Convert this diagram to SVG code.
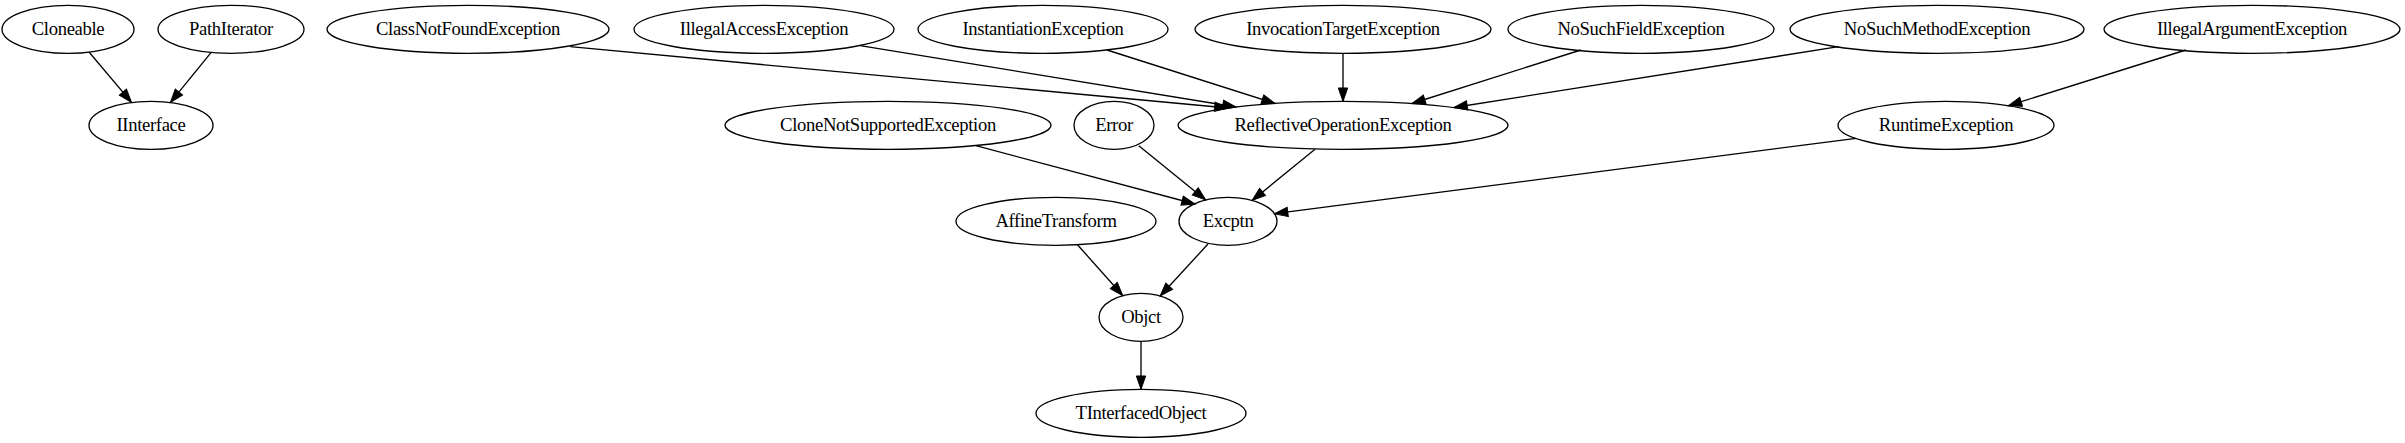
<svg xmlns="http://www.w3.org/2000/svg" width="2405" height="443" viewBox="0 0 2405 443">
<style>
.node ellipse{fill:none;stroke:#000;stroke-width:1.33}
.node text{font-family:"Liberation Serif","Times New Roman",serif;font-size:18.67px;letter-spacing:-0.35px;text-anchor:middle;fill:#000}
.edges path{fill:none;stroke:#000;stroke-width:1.33;marker-end:url(#arr)}
</style>
<defs>
<marker id="arr" markerUnits="userSpaceOnUse" viewBox="0 0 13.33 9.33" refX="13.33" refY="4.67" markerWidth="13.33" markerHeight="9.33" orient="auto" overflow="visible">
<path d="M0,0 L13.33,4.67 L0,9.33 z" fill="#000" stroke="#000" stroke-width="1"/>
</marker>
</defs>
<rect width="2405" height="443" fill="#fff"/>
<g class="edges">
<path d="M89.2,52.3 L131.5,102.4"/>
<path d="M211.2,52.3 L170.5,102.4"/>
<path d="M570.2,46.7 L1228,108"/>
<path d="M860.2,45.7 L1236,107"/>
<path d="M1107,50 L1275,103.5"/>
<path d="M1343,53.3 L1343,101.3"/>
<path d="M1580.8,50 L1412,103.5"/>
<path d="M1838.6,46.7 L1454,107.5"/>
<path d="M2185.8,50 L2008.4,105.7"/>
<path d="M975.9,145.7 L1195,204"/>
<path d="M1138.8,145.7 L1205.6,199.9"/>
<path d="M1315,149.3 L1252.2,200.4"/>
<path d="M1856,138.3 L1274.5,213.7"/>
<path d="M1077.7,245 L1122.7,295.5"/>
<path d="M1208,244 L1160.2,296"/>
<path d="M1141,341.3 L1141,389.3"/>
</g>
<g id="Cloneable" class="node"><ellipse cx="68" cy="29.3" rx="66" ry="24"/><text x="68" y="35.3">Cloneable</text></g>
<g id="PathIterator" class="node"><ellipse cx="231" cy="29.3" rx="73" ry="24"/><text x="231" y="35.3">PathIterator</text></g>
<g id="ClassNotFoundException" class="node"><ellipse cx="468" cy="29.3" rx="141" ry="24"/><text x="468" y="35.3">ClassNotFoundException</text></g>
<g id="IllegalAccessException" class="node"><ellipse cx="764" cy="29.3" rx="130" ry="24"/><text x="764" y="35.3">IllegalAccessException</text></g>
<g id="InstantiationException" class="node"><ellipse cx="1043" cy="29.3" rx="125" ry="24"/><text x="1043" y="35.3">InstantiationException</text></g>
<g id="InvocationTargetException" class="node"><ellipse cx="1343" cy="29.3" rx="148" ry="24"/><text x="1343" y="35.3">InvocationTargetException</text></g>
<g id="NoSuchFieldException" class="node"><ellipse cx="1641" cy="29.3" rx="133" ry="24"/><text x="1641" y="35.3">NoSuchFieldException</text></g>
<g id="NoSuchMethodException" class="node"><ellipse cx="1937" cy="29.3" rx="147" ry="24"/><text x="1937" y="35.3">NoSuchMethodException</text></g>
<g id="IllegalArgumentException" class="node"><ellipse cx="2252" cy="29.3" rx="148" ry="24"/><text x="2252" y="35.3">IllegalArgumentException</text></g>
<g id="IInterface" class="node"><ellipse cx="151" cy="125.3" rx="62" ry="24"/><text x="151" y="131.3">IInterface</text></g>
<g id="CloneNotSupportedException" class="node"><ellipse cx="888" cy="125.3" rx="163" ry="24"/><text x="888" y="131.3">CloneNotSupportedException</text></g>
<g id="Error" class="node"><ellipse cx="1114" cy="125.3" rx="40" ry="24"/><text x="1114" y="131.3">Error</text></g>
<g id="ReflectiveOperationException" class="node"><ellipse cx="1343" cy="125.3" rx="165" ry="24"/><text x="1343" y="131.3">ReflectiveOperationException</text></g>
<g id="RuntimeException" class="node"><ellipse cx="1946" cy="125.3" rx="108" ry="24"/><text x="1946" y="131.3">RuntimeException</text></g>
<g id="AffineTransform" class="node"><ellipse cx="1056" cy="221.3" rx="100" ry="24"/><text x="1056" y="227.3">AffineTransform</text></g>
<g id="Excptn" class="node"><ellipse cx="1228" cy="221.3" rx="49" ry="24"/><text x="1228" y="227.3">Excptn</text></g>
<g id="Objct" class="node"><ellipse cx="1141" cy="317.3" rx="42" ry="24"/><text x="1141" y="323.3">Objct</text></g>
<g id="TInterfacedObject" class="node"><ellipse cx="1141" cy="413.3" rx="105" ry="24"/><text x="1141" y="419.3">TInterfacedObject</text></g>
</svg>
